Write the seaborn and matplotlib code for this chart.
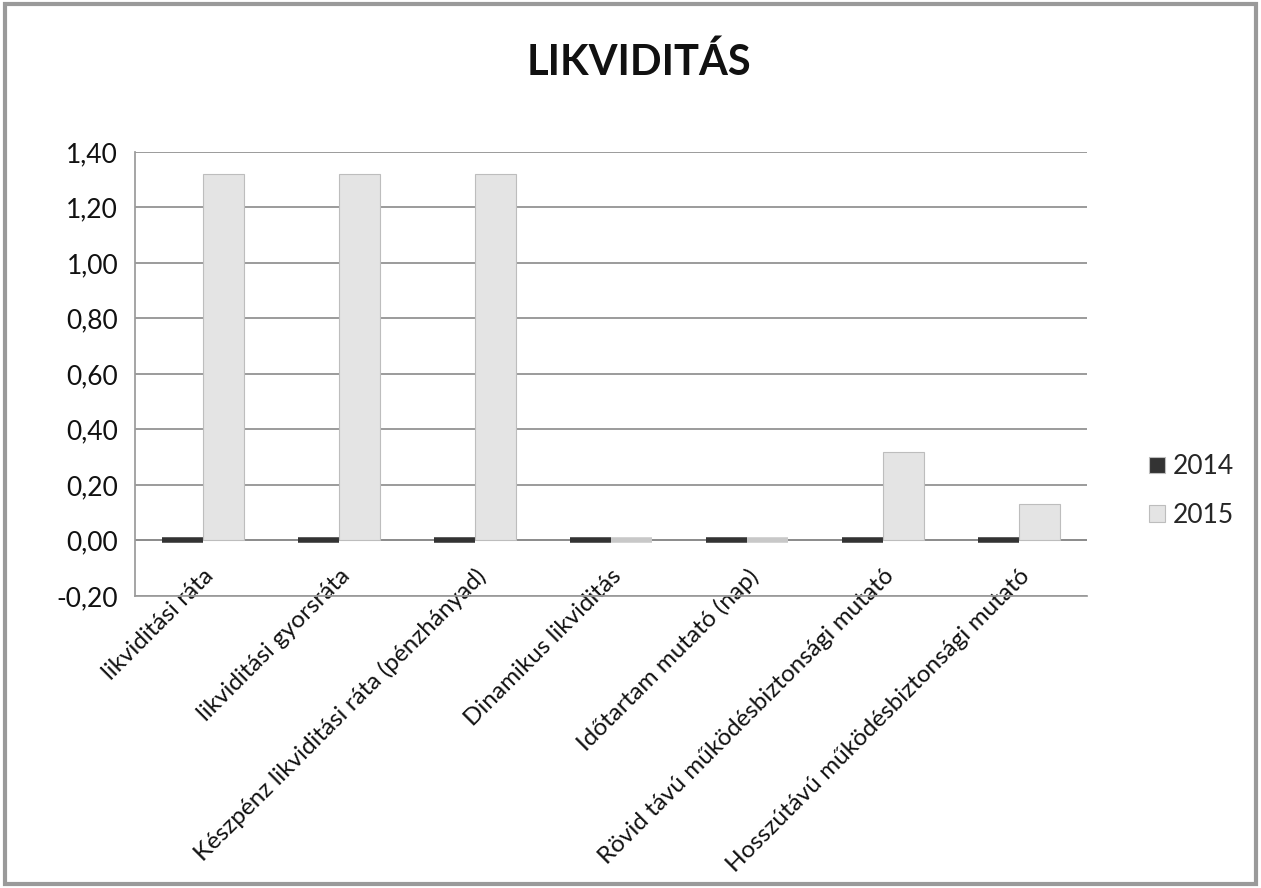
import matplotlib
matplotlib.use("Agg")
import matplotlib.pyplot as plt
from matplotlib.ticker import FuncFormatter, MultipleLocator
import pandas as pd
import seaborn as sns


CATEGORIES = [
    "likviditási ráta",
    "likviditási gyorsráta",
    "Készpénz likviditási ráta (pénzhányad)",
    "Dinamikus likviditás",
    "Időtartam mutató (nap)",
    "Rövid távú működésbiztonsági mutató",
    "Hosszútávú működésbiztonsági mutató",
]
VALUES_2014 = [0.0, 0.0, 0.0, 0.0, 0.0, 0.0, 0.0]
VALUES_2015 = [1.32, 1.32, 1.32, 0.0, 0.0, 0.32, 0.13]
SERIES = ["2014", "2015"]
TITLE = "LIKVIDITÁS"


def build_frame():
    rows = []
    for series, values in zip(SERIES, [VALUES_2014, VALUES_2015]):
        for category, value in zip(CATEGORIES, values):
            rows.append({"category": category, "year": series, "value": value})
    return pd.DataFrame(rows)


def main():
    sns.set_theme(style="white")
    plt.rcParams["font.family"] = ["Lato", "DejaVu Sans"]

    df = build_frame()
    fig, ax = plt.subplots(figsize=(12.61, 8.88), dpi=100)
    fig.subplots_adjust(left=0.107, right=0.862, top=0.829, bottom=0.329)

    palette = {"2014": "#333333", "2015": "#e4e4e4"}
    sns.barplot(
        data=df,
        x="category",
        y="value",
        hue="year",
        palette=palette,
        width=0.6,
        edgecolor="#bdbdbd",
        linewidth=0.8,
        ax=ax,
    )

    # zero-height bars: give them a thick edge so they show like the flat discs
    for container, colour in zip(ax.containers, ["#333333", "#c8c8c8"]):
        for patch in container:
            if patch.get_height() == 0:
                patch.set_edgecolor(colour)
                patch.set_linewidth(4)

    ax.set_ylim(-0.2, 1.4)
    ax.yaxis.set_major_locator(MultipleLocator(0.2))
    ax.yaxis.set_major_formatter(
        FuncFormatter(lambda v, _: f"{v:.2f}".replace(".", ",").replace("-0,00", "0,00")))
    ax.grid(axis="y", color="#8a8a8a", linewidth=1.2)
    ax.set_axisbelow(True)
    ax.axhline(0, color="#8a8a8a", linewidth=1.2, zorder=0.5)

    for spine in ["top", "right"]:
        ax.spines[spine].set_visible(False)
    ax.spines["left"].set_color("#9a9a9a")
    ax.spines["bottom"].set_color("#9a9a9a")

    ax.set_xlabel("")
    ax.set_ylabel("")
    ax.tick_params(axis="y", labelsize=19, colors="#111111", length=0, pad=12)
    ax.tick_params(axis="x", labelsize=17.5, colors="#111111", length=0, pad=-22)
    plt.setp(ax.get_xticklabels(), rotation=45, ha="right", rotation_mode="anchor")

    fig.text(0.507, 0.93, TITLE, fontsize=30, fontweight="bold",
             ha="center", va="center", color="#111111")

    ax.legend(
        loc="center left",
        bbox_to_anchor=(1.04, 0.236),
        frameon=False,
        fontsize=19,
        handlelength=0.6,
        handleheight=0.6,
        handletextpad=0.3,
        labelspacing=0.9,
    )

    fig.patches.append(
        plt.Rectangle((0.004, 0.004), 0.992, 0.992, transform=fig.transFigure,
                      fill=False, edgecolor="#9a9a9a", linewidth=3))

    fig.savefig("out.png", dpi=100)
    plt.close(fig)


if __name__ == "__main__":
    main()
